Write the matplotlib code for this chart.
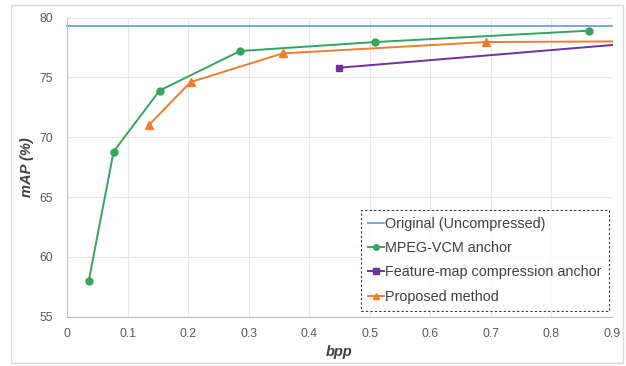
import matplotlib
matplotlib.use("Agg")
import matplotlib.pyplot as plt
from matplotlib.patches import Rectangle

plt.rcParams['font.family'] = ['Liberation Sans', 'DejaVu Sans']

# Data
orig_x = [0.0, 0.9]
orig_y = [79.3, 79.3]

vcm_x = [0.036, 0.077, 0.153, 0.286, 0.509, 0.862]
vcm_y = [58.0, 68.8, 73.9, 77.2, 77.95, 78.9]

fm_x = [0.449, 0.9]
fm_y = [75.8, 77.7]

prop_x = [0.135, 0.204, 0.356, 0.692, 0.9]
prop_y = [71.0, 74.6, 77.0, 77.95, 78.0]

xticks = [0, 0.1, 0.2, 0.3, 0.4, 0.5, 0.6, 0.7, 0.8, 0.9]
xtick_labels = ['0', '0.1', '0.2', '0.3', '0.4', '0.5', '0.6', '0.7', '0.8', '0.9']
yticks = [55, 60, 65, 70, 75, 80]

W, H = 626, 366
fig = plt.figure(figsize=(W / 100, H / 100), dpi=100)
ax = fig.add_axes([67 / W, 1 - 316.7 / H, (612 - 67) / W, (316.7 - 17.5) / H])

# outer frame
fig.patches.append(Rectangle((11 / W, 3 / H), 612 / W, 358 / H, transform=fig.transFigure,
                             fill=False, edgecolor='#d9d9d9', linewidth=1))

c_blue = '#5b9bd5'
c_green = '#34a55a'
c_purple = '#7030a0'
c_orange = '#ed7d31'

ax.plot(orig_x, orig_y, color=c_blue, lw=1.2, label='Original (Uncompressed)', clip_on=False)
ax.plot(vcm_x, vcm_y, color=c_green, lw=1.4, marker='o', ms=5, label='MPEG-VCM anchor')
ax.plot(fm_x, fm_y, color=c_purple, lw=1.4, marker='s', ms=5, markevery=[0],
        label='Feature-map compression anchor', clip_on=False)
ax.plot(prop_x, prop_y, color=c_orange, lw=1.4, marker='^', ms=5.5, markevery=[0, 1, 2, 3],
        label='Proposed method', clip_on=False)

ax.set_xlim(0, 0.9)
ax.set_ylim(55, 80)
ax.set_xticks(xticks)
ax.set_xticklabels(xtick_labels)
ax.set_yticks(yticks)
ax.grid(True, color='#e6e6e6', lw=0.8)
ax.set_axisbelow(True)
for s in ['top', 'right']:
    ax.spines[s].set_visible(False)
for s in ['left', 'bottom']:
    ax.spines[s].set_color('#bfbfbf')
    ax.spines[s].set_linewidth(0.8)
ax.tick_params(axis='y', length=0, labelsize=8.8, labelcolor='#595959', pad=10)
ax.tick_params(axis='x', length=0, labelsize=8.8, labelcolor='#595959', pad=8)

ax.set_xlabel('bpp', fontsize=10.5, fontweight='bold', fontstyle='italic', color='#404040', labelpad=4)
ax.set_ylabel('mAP (%)', fontsize=10.5, fontweight='bold', fontstyle='italic', color='#404040', labelpad=4)

leg = ax.legend(loc='lower right', bbox_to_anchor=(1.0, 0.01), fontsize=10.4, frameon=True,
                fancybox=False, handlelength=1.1, handletextpad=0.1, labelspacing=0.7,
                borderpad=0.5, markerscale=0.8, borderaxespad=0.2)
frame = leg.get_frame()
frame.set_edgecolor('black')
frame.set_linestyle((0, (2, 2)))
frame.set_linewidth(0.8)
for t in leg.get_texts():
    t.set_color('#404040')

fig.savefig('out.png', dpi=100)
